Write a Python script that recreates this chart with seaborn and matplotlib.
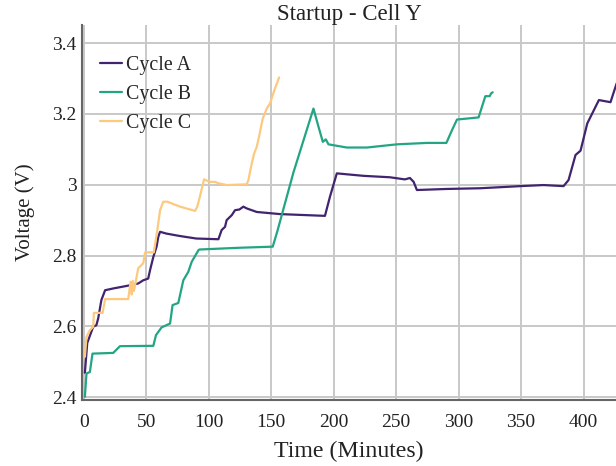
import matplotlib
matplotlib.use("Agg")
import matplotlib.pyplot as plt
import seaborn as sns
import pandas as pd
from matplotlib.ticker import FuncFormatter

# ---- data ----
time_a = [0.8, 2.7, 7.5, 10, 11.5, 14, 17, 23.5, 37, 43.5, 47.5, 51.5, 53, 55.6, 58.2, 59.6, 61,
          66, 77, 90, 107.7, 110.3, 113, 114.3, 118.4, 121, 124.5, 127.7, 130.4, 138.4, 157,
          178.5, 193, 197, 202.5, 224, 245, 257, 261, 264, 266.6, 290.6, 317.4, 349.5, 368, 384,
          388, 393.6, 397.6, 403, 412.3, 421.6, 426.5]
volt_a = [2.469, 2.553, 2.599, 2.603, 2.623, 2.674, 2.702, 2.707, 2.716, 2.721, 2.730, 2.735, 2.759,
          2.796, 2.825, 2.853, 2.867, 2.862, 2.855, 2.848, 2.846, 2.872, 2.881, 2.900, 2.914, 2.928,
          2.930, 2.938, 2.933, 2.923, 2.917, 2.914, 2.912, 2.966, 3.032, 3.025, 3.021, 3.015, 3.019,
          3.008, 2.985, 2.988, 2.990, 2.996, 2.999, 2.996, 3.013, 3.084, 3.096, 3.173, 3.239, 3.233,
          3.286]

time_b = [0.8, 2.1, 4.8, 6.9, 23.5, 28.9, 55.6, 57.7, 62.2, 69, 71, 75.6, 79.6, 83.6, 86.3, 91.7,
          92.5, 125, 151.2, 155, 167.8, 183.8, 187.8, 191.3, 193.7, 195.8, 210.5, 226.6,
          250.6, 274.7, 290.2, 294.7, 298.7, 316, 321.4, 324.9, 326, 327.3]
volt_b = [2.401, 2.467, 2.471, 2.523, 2.525, 2.544, 2.545, 2.575, 2.597, 2.608, 2.660, 2.666, 2.730,
          2.754, 2.782, 2.815, 2.817, 2.822, 2.825, 2.870, 3.035, 3.215, 3.164, 3.121, 3.128,
          3.114, 3.105, 3.105, 3.114, 3.118, 3.118, 3.154, 3.184, 3.190, 3.250, 3.250, 3.258, 3.261]

time_c = [0.8, 2.1, 4.8, 7.5, 8, 15, 17, 35.5, 37.4, 38.3, 39.2, 40, 41, 43.5, 47.5, 49, 56, 58.8,
          61, 63.6, 66.8, 77, 89, 90.8, 92.5, 96.2, 101, 105, 107.7, 114.4, 130.4, 131.7, 134.4,
          136.3, 138.4, 140.5, 143.2, 146.4, 149.1, 152.5, 156.3]
volt_c = [2.514, 2.570, 2.589, 2.599, 2.638, 2.638, 2.677, 2.677, 2.726, 2.690, 2.728, 2.700, 2.716,
          2.764, 2.778, 2.809, 2.809, 2.872, 2.928, 2.952, 2.952, 2.938, 2.926, 2.938, 2.961, 3.015,
          3.008, 3.008, 3.004, 2.999, 3.001, 3.013, 3.060, 3.088, 3.107, 3.140, 3.187, 3.215, 3.230,
          3.267, 3.303]

cycles = ["Cycle A", "Cycle B", "Cycle C"]
colors = ["#41236f", "#23a584", "#fdc97f"]
x_ticks = [0, 50, 100, 150, 200, 250, 300, 350, 400]
y_ticks = [2.4, 2.6, 2.8, 3.0, 3.2, 3.4]

frames = []
for name, t, v in zip(cycles, [time_a, time_b, time_c], [volt_a, volt_b, volt_c]):
    frames.append(pd.DataFrame({"time": t, "voltage": v, "cycle": name}))
df = pd.concat(frames, ignore_index=True)

sns.set_theme(style="white")
plt.rcParams["font.family"] = ["Liberation Serif", "DejaVu Serif"]

fig = plt.figure(figsize=(6.16, 4.66), dpi=100)
ax = fig.add_axes([82 / 616, 1 - 400 / 466, 1 - 82 / 616, (400 - 25) / 466])

sns.lineplot(data=df, x="time", y="voltage", hue="cycle", hue_order=cycles,
             palette=dict(zip(cycles, colors)), sort=False, estimator=None,
             linewidth=1.6, ax=ax)

ax.set_xlim(-1.5, 426)
ax.set_ylim(2.392, 3.451)
ax.set_xticks(x_ticks)
ax.set_yticks(y_ticks)
ax.yaxis.set_major_formatter(FuncFormatter(lambda v, p: f"{v:g}"))
ax.grid(True, color="#c8c8c8", linewidth=1.4)
ax.set_axisbelow(True)
ax.tick_params(length=0, labelsize=14, colors="#222222")
ax.tick_params(axis="x", pad=10)
ax.tick_params(axis="y", pad=4)
for s in ["top", "right"]:
    ax.spines[s].set_visible(False)
for s in ["left", "bottom"]:
    ax.spines[s].set_color("#666666")
    ax.spines[s].set_linewidth(1.5)

ax.set_xlabel("Time (Minutes)", fontsize=17.2, color="#222222", labelpad=7)
ax.set_ylabel("Voltage (V)", fontsize=15, color="#222222", labelpad=12)
ax.set_title("Startup - Cell Y", fontsize=16.5, color="#222222", pad=3.5)

leg = ax.legend(loc="upper left", frameon=False, fontsize=14.3, handlelength=1.1,
                handletextpad=0.2, labelspacing=0.5, bbox_to_anchor=(0.0, 0.965))

fig.savefig("out.png", dpi=100)
